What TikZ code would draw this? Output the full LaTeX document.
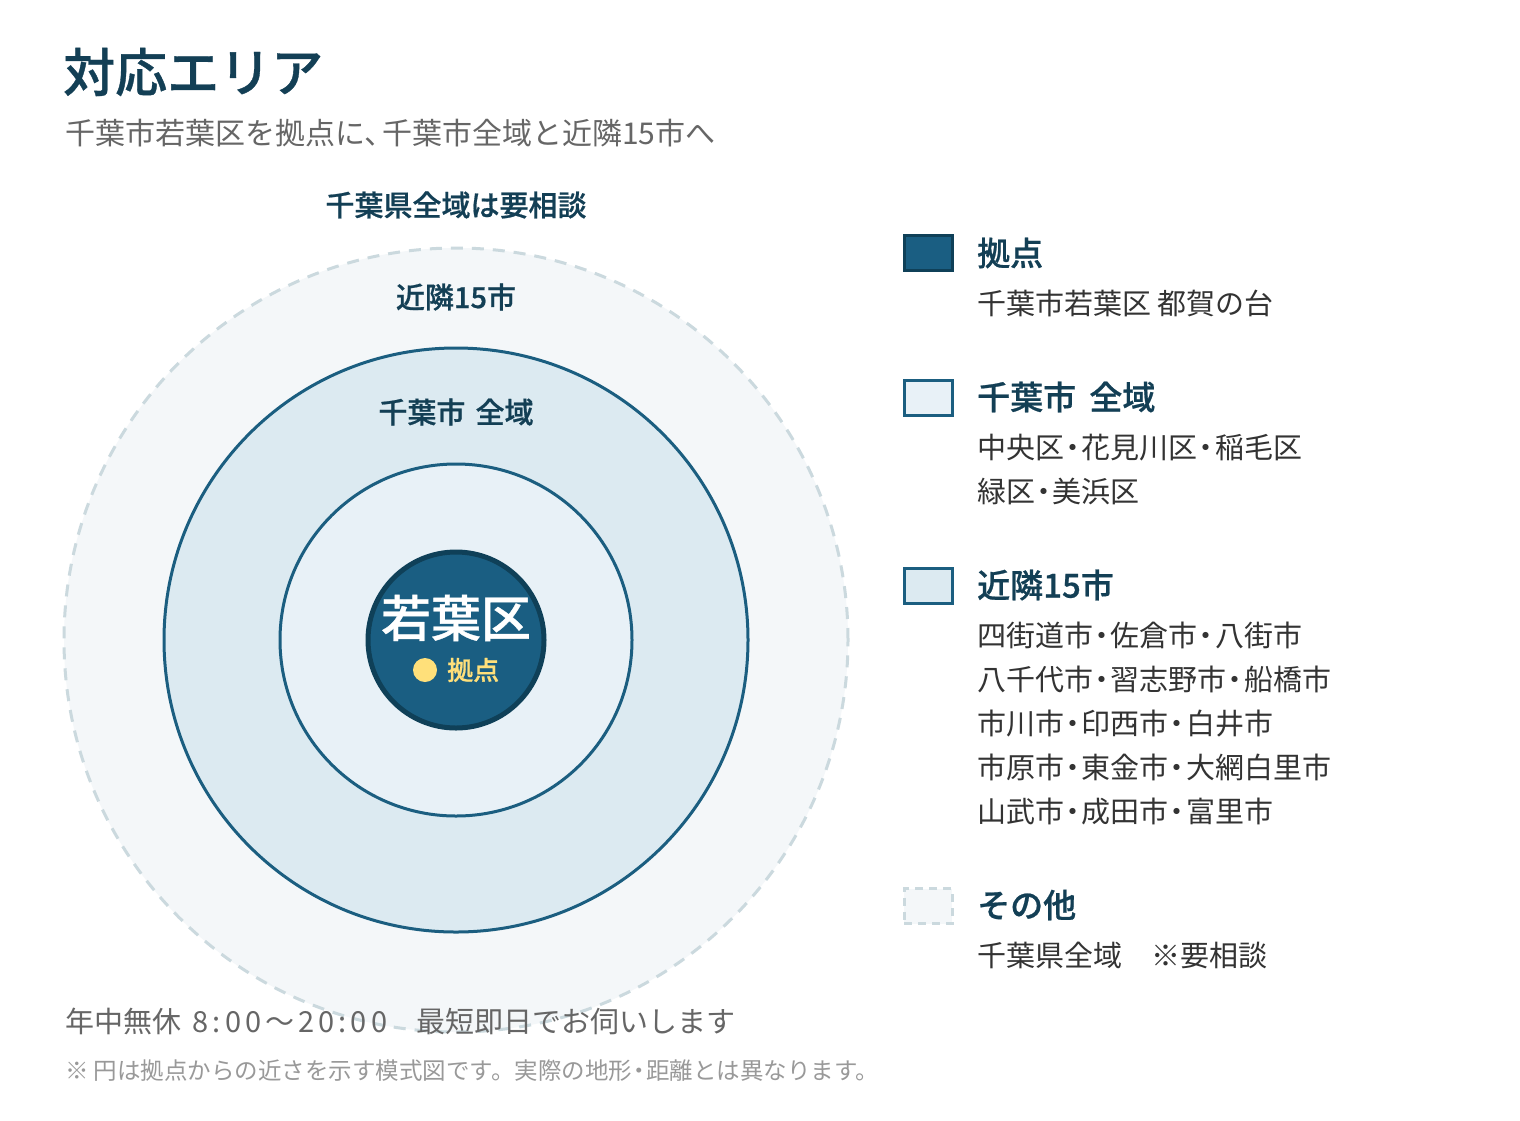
\documentclass[tikz,border=0pt]{standalone}
\usepackage{fontspec}
\setmainfont{Noto Sans CJK JP}[BoldFont={Noto Sans CJK JP Medium},BoldFeatures={FakeBold=0.7}]
\usetikzlibrary{positioning}

\definecolor{areaInk}{HTML}{133F55}
\definecolor{baseFill}{HTML}{1A5E82}
\definecolor{baseEdge}{HTML}{0F4058}
\definecolor{ringEdge}{HTML}{1B5E80}
\definecolor{cityFill}{HTML}{E8F1F7}
\definecolor{nearFill}{HTML}{DCEAF1}
\definecolor{otherFill}{HTML}{F4F7F9}
\definecolor{otherEdge}{HTML}{CBD9DE}
\definecolor{bodyInk}{HTML}{333333}
\definecolor{subInk}{HTML}{666666}
\definecolor{noteInk}{HTML}{999999}
\definecolor{pinYellow}{HTML}{FFE07A}

\newcommand{\fsz}[1]{\fontsize{#1}{#1}\selectfont}
\newcommand{\nakaguro}{\kern-0.2em・\kern-0.2em}
\newcommand{\touten}{、\kern-0.4em}

\begin{document}
\begin{tikzpicture}[
    x=1pt,y=-1pt,
    ring/.style={circle,draw=ringEdge,line width=3pt,inner sep=0pt},
    ringlabel/.style={font=\bfseries\fsz{29},text=areaInk,inner sep=0pt},
    keybox/.style={rectangle,minimum width=48pt,minimum height=35pt,line width=3pt,inner sep=0pt},
    keytitle/.style={anchor=west,font=\bfseries\fsz{33},text=areaInk,inner sep=0pt},
    keybody/.style={anchor=north west,align=left,inner sep=0pt,font=\fontsize{29}{44}\selectfont,text=bodyInk}
]
    \fill[white] (0,0) rectangle (1520,1120);

    % heading
    \node[anchor=west,inner sep=0pt,font=\bfseries\fsz{52},text=areaInk] (title) at (63,72) {対応エリア};
    \node[anchor=west,inner sep=0pt,font=\fsz{30},text=subInk] (subtitle) at (65,133) {千葉市若葉区を拠点に\touten 千葉市全域と近隣15市へ};

    % rings
    \node[ring,draw=otherEdge,fill=otherFill,dash pattern=on 12pt off 9pt,minimum size=784pt] (pref) at (456,640) {};
    \node[ring,fill=nearFill,minimum size=584pt] (near) at (pref.center) {};
    \node[ring,fill=cityFill,minimum size=352pt] (city) at (pref.center) {};
    \node[circle,draw=baseEdge,fill=baseFill,line width=5pt,minimum size=176pt,inner sep=0pt] (base) at (pref.center) {};

    \node[ringlabel] (prefLabel) at (456,205) {千葉県全域は要相談};
    \node[ringlabel] (nearLabel) at (456,297) {近隣15市};
    \node[ringlabel] (cityLabel) at (456,412) {千葉市\hspace{0.35em}全域};
    \node[inner sep=0pt,font=\bfseries\fsz{50},text=white] (baseName) at (456,618) {若葉区};
    \node[inner sep=0pt,font=\bfseries\fsz{26},text=pinYellow,anchor=west] (basePin) at (447,670) {拠点};
    \fill[pinYellow] (basePin.west) ++(-22,0) circle (12);

    % legend
    \node[keybox,draw=baseEdge,fill=baseFill] (keyBase) at (928,253) {};
    \node[keytitle] (keyBaseTitle) at (977,253) {拠点};
    \node[keybody] (keyBaseBody) at (977,290) {千葉市若葉区 都賀の台};

    \node[keybox,draw=ringEdge,fill=cityFill] (keyCity) at (928,398) {};
    \node[keytitle] (keyCityTitle) at (977,397) {千葉市\hspace{0.4em}全域};
    \node[keybody] (keyCityBody) at (977,434) {中央区\nakaguro 花見川区\nakaguro 稲毛区\\緑区\nakaguro 美浜区};

    \node[keybox,draw=ringEdge,fill=nearFill] (keyNear) at (928,586) {};
    \node[keytitle] (keyNearTitle) at (977,585) {近隣15市};
    \node[keybody] (keyNearBody) at (977,622) {四街道市\nakaguro 佐倉市\nakaguro 八街市\\八千代市\nakaguro 習志野市\nakaguro 船橋市\\市川市\nakaguro 印西市\nakaguro 白井市\\市原市\nakaguro 東金市\nakaguro 大網白里市\\山武市\nakaguro 成田市\nakaguro 富里市};

    \node[keybox,draw=otherEdge,fill=otherFill,dash pattern=on 8pt off 6pt] (keyOther) at (928,906) {};
    \node[keytitle] (keyOtherTitle) at (977,905) {その他};
    \node[keybody] (keyOtherBody) at (977,942) {千葉県全域\quad ※要相談};

    % footer
    \node[anchor=west,inner sep=0pt,font=\fsz{29},text=subInk] (hours) at (65,1021) {年中無休\hspace{0.4em}{\addfontfeatures{LetterSpace=14}8:00～20:00}\quad 最短即日でお伺いします};
    \node[anchor=west,inner sep=0pt,font=\fsz{23.5},text=noteInk] (note) at (65,1071) {※ 円は拠点からの近さを示す模式図です。実際の地形\nakaguro 距離とは異なります。};
\end{tikzpicture}
\end{document}
